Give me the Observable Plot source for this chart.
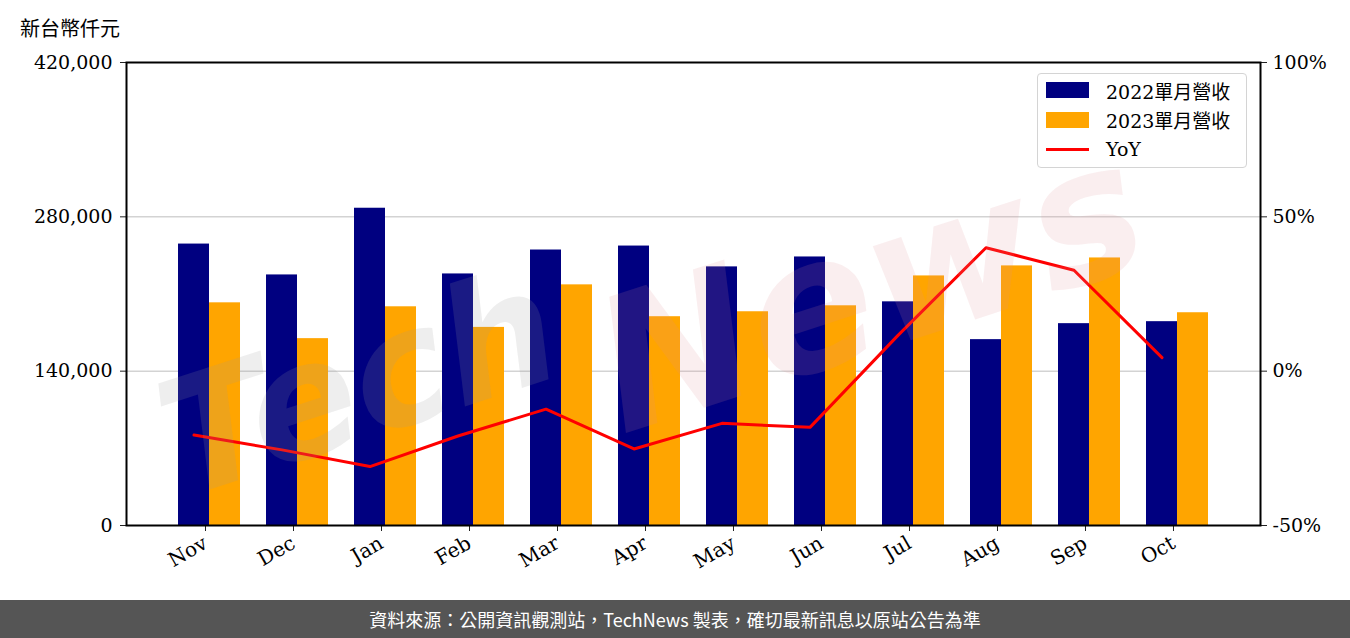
<!DOCTYPE html>
<html>
<head>
<meta charset="utf-8">
<script src="https://cdn.jsdelivr.net/npm/d3@7"></script>
<script src="https://cdn.jsdelivr.net/npm/@observablehq/plot@0.6"></script>
<style>
  html, body { margin: 0; padding: 0; background: #fff; }
  #wrap { position: relative; width: 1350px; height: 638px; overflow: hidden; }
  #unit { position: absolute; left: 20px; top: 13px; font: 20px "DejaVu Serif", "Noto Sans CJK TC", serif; color: #000; }
  #legend { position: absolute; left: 1037px; top: 73px; width: 208px; height: 93px; border: 1.5px solid #d4d4d4; border-radius: 4px; background: rgba(255,255,255,0.85); font: 19px "DejaVu Serif", "Noto Sans CJK TC", serif; }
  .row { position: absolute; left: 8px; height: 28px; display: flex; align-items: center; }
  .sw { width: 43px; height: 16px; margin-right: 17px; }
  .ln { width: 43px; height: 3px; margin-right: 17px; background: #ff0000; }
  #footer { position: absolute; left: 0; top: 600px; width: 1350px; height: 38px; background: #555555; color: #fff; font: 18px "Noto Sans CJK TC", "Noto Sans", sans-serif; display: flex; align-items: center; justify-content: center; }
</style>
</head>
<body>
<div id="wrap">
  <div id="chart"></div>
  <div id="unit">新台幣仟元</div>
  <div id="legend"></div>
  <div id="footer">資料來源：公開資訊觀測站，TechNews 製表，確切最新訊息以原站公告為準</div>
</div>
<script>
// ---- data ----
const months = ["Nov","Dec","Jan","Feb","Mar","Apr","May","Jun","Jul","Aug","Sep","Oct"];
const rev2022 = [255300, 227300, 287800, 228200, 249900, 253500, 234600, 243600, 202900, 168600, 183100, 184900];
const rev2023 = [202000, 169500, 198400, 179700, 218300, 189400, 193900, 199300, 226400, 235500, 242700, 193000];
const yoy = [-20.7, -25.5, -30.9, -21.0, -12.3, -25.2, -16.9, -18.2, 11.6, 40.0, 32.7, 4.4];
const leftTicks = [0, 140000, 280000, 420000];
const rightTickLabels = ["-50%", "0%", "50%", "100%"];
const seriesNames = ["2022單月營收", "2023單月營收", "YoY"];
const seriesColors = ["#000080", "#ffa500", "#ff0000"];

const rows = months.map((m, i) => ({month: m, v2022: rev2022[i], v2023: rev2023[i], yoy: yoy[i]}));
// right axis (-50%..100%) mapped onto left scale (0..420000)
const pctToLeft = p => (p + 50) / 150 * 420000;

const chart = Plot.plot({
  width: 1350,
  height: 600,
  marginLeft: 126,
  marginRight: 90,
  marginTop: 62,
  marginBottom: 75,
  style: {fontFamily: "'DejaVu Serif', 'Noto Sans CJK TC', serif", fontSize: "19px", color: "#000", background: "transparent"},
  x: {domain: months, paddingInner: 0.2955, paddingOuter: 0.591, round: false, label: null},
  y: {domain: [0, 420000], label: null},
  marks: [
    Plot.gridY([140000, 280000], {stroke: "#d3d3d3", strokeOpacity: 1, strokeWidth: 1.5}),
    Plot.barY(rows, {x: "month", y: "v2022", fill: seriesColors[0], insetLeft: 0, insetRight: 31}),
    Plot.barY(rows, {x: "month", y: "v2023", fill: seriesColors[1], insetLeft: 31, insetRight: 0}),
    Plot.line(rows, {x: "month", y: d => pctToLeft(d.yoy), stroke: seriesColors[2], strokeWidth: 3, dx: -15.5}),
    Plot.text(["Tech"], {frameAnchor: "top-left", textAnchor: "middle", dx: 214, dy: 265, rotate: -18, fontSize: 160, fontWeight: "bold", fontStyle: "italic", fontFamily: "DejaVu Sans", fill: "#9a9a9a", fillOpacity: 0.17}),
    Plot.text(["News"], {frameAnchor: "top-left", textAnchor: "middle", dx: 722, dy: 160, rotate: -18, fontSize: 185, fontWeight: "bold", fontStyle: "italic", fontFamily: "DejaVu Sans", fill: "#e08a95", fillOpacity: 0.15}),
    Plot.axisY(leftTicks, {anchor: "left", tickFormat: d3.format(","), tickSize: 6, tickPadding: 8, stroke: "#222", label: null}),
    Plot.axisY(leftTicks, {anchor: "right", tickFormat: (d, i) => rightTickLabels[i], tickSize: 6, tickPadding: 6, stroke: "#222", label: null}),
    Plot.axisX({tickRotate: -30, tickSize: 6, tickPadding: 10, dx: -4, fontSize: 20, stroke: "#222", label: null}),
    Plot.frame({stroke: "#000", strokeWidth: 2})
  ]
});
document.getElementById("chart").appendChild(chart);

// legend
const lg = document.getElementById("legend");
seriesNames.forEach((name, i) => {
  const r = document.createElement("div");
  r.className = "row";
  r.style.top = (2 + i * 29.5) + "px";
  const s = document.createElement("div");
  s.className = i < 2 ? "sw" : "ln";
  s.style.background = seriesColors[i];
  const t = document.createElement("span");
  t.textContent = name;
  r.appendChild(s); r.appendChild(t);
  lg.appendChild(r);
});
</script>
</body>
</html>
